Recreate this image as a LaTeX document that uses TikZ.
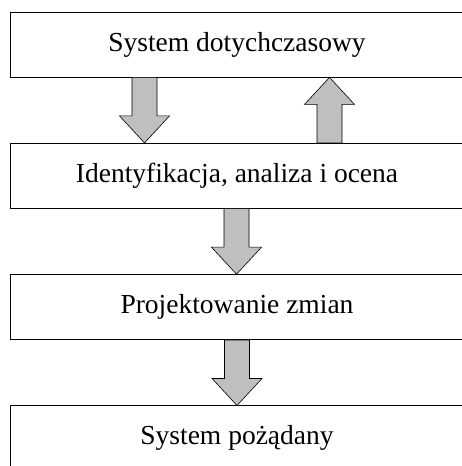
\documentclass[tikz,border=0pt]{standalone}
\usepackage{fontspec}
\setmainfont{Liberation Serif}
\usetikzlibrary{positioning,calc}

% strzalka blokowa: x, ogon, grot, kierunek (1 w dol, -1 w gore)
\newcommand{\blokowa}[4]{%
	\draw[strzalka] let \p1 = (#2), \p2 = (#3) in
		({#1pt-12.5pt},\y1) -- ({#1pt-12.5pt},{\y2+#4*27pt}) -- ({#1pt-25pt},{\y2+#4*27pt})
		-- (#1pt,\y2) -- ({#1pt+25pt},{\y2+#4*27pt}) -- ({#1pt+12.5pt},{\y2+#4*27pt})
		-- ({#1pt+12.5pt},\y1) -- cycle;}

\begin{document}
\begin{tikzpicture}[x = 1pt, y = 1pt, node distance = 65.5pt,
		blok/.style = {draw, line width = 0.8pt, minimum width = 454pt, minimum height = 65pt,
			inner sep = 0pt, font = \fontsize{27.5}{32}\selectfont},
		strzalka/.style = {draw, line width = 0.6pt, fill = black!25}]
	\useasboundingbox (0,0) rectangle (461,466);
	\node[blok] (sys) at (237,421.5) {System dotychczasowy};
	\node[blok, below = of sys] (ident) {Identyfikacja, analiza i ocena};
	\node[blok, below = of ident] (proj) {Projektowanie zmian};
	\node[blok, below = of proj] (pozad) {System pożądany};
	\blokowa{144.5}{sys.south}{ident.north}{1}
	\blokowa{329.5}{ident.north}{sys.south}{-1}
	\blokowa{236.5}{ident.south}{proj.north}{1}
	\blokowa{237}{proj.south}{pozad.north}{1}
\end{tikzpicture}
\end{document}
